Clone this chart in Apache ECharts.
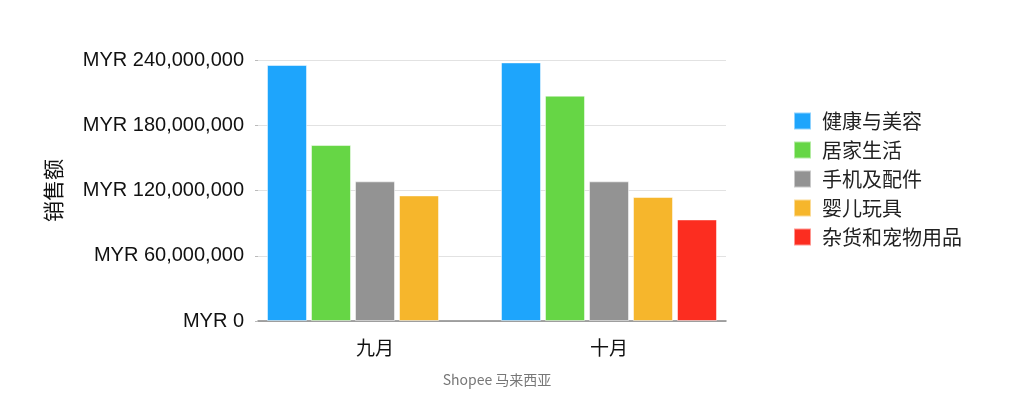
<!DOCTYPE html>
<html><head><meta charset="utf-8">
<script src="https://cdn.jsdelivr.net/npm/echarts@6/dist/echarts.min.js"></script>
<style>html,body{margin:0;padding:0;background:#fff}#c{width:1024px;height:420px}</style>
</head><body><div id="c"></div>
<script>
var categories = ['九月', '十月'];
var seriesNames = ['健康与美容', '居家生活', '手机及配件', '婴儿玩具', '杂货和宠物用品'];
var health = [235400000, 237800000];
var home = [161800000, 207200000];
var phones = [128400000, 128400000];
var baby = [115500000, 114000000];
var grocery = [null, 93400000];
var colors = ['#1EA5FC', '#66D645', '#939393', '#F6B62C', '#FC2D20'];
var yTicks = [0, 60000000, 120000000, 180000000, 240000000];

var dataList = [health, home, phones, baby, grocery];
var font = '"Noto Sans CJK SC", "Liberation Sans", sans-serif';
var chart = echarts.init(document.getElementById('c'));
function fmt(v){ return 'MYR ' + v.toString().replace(/\B(?=(\d{3})+(?!\d))/g, ','); }
chart.setOption({
  animation: false,
  color: colors,
  title: { text: 'Shopee 马来西亚', left: 492, top: 368, textAlign: 'center',
    textStyle: { fontSize: 14, fontWeight: 'normal', color: '#777', fontFamily: font } },
  legend: { orient: 'vertical', left: 788, top: 106, itemWidth: 17, itemHeight: 17, itemGap: 9,
    icon: 'rect', textStyle: { fontSize: 20, lineHeight: 20, color: '#222', fontFamily: font, padding: [0,0,0,6] },
    data: seriesNames },
  grid: { left: 258, top: 60, width: 468, height: 261 },
  xAxis: { type: 'category', data: categories,
    axisLine: { lineStyle: { color: '#888', width: 1.5 } }, axisTick: { show: false },
    axisLabel: { fontSize: 19, color: '#111', fontFamily: font, margin: 17 } },
  yAxis: { type: 'value', min: yTicks[0], max: yTicks[yTicks.length-1], interval: yTicks[1]-yTicks[0],
    name: '销售额', nameLocation: 'middle', nameRotate: 90, nameGap: 194,
    nameTextStyle: { fontSize: 21, color: '#111', fontFamily: font },
    axisLine: { show: false }, axisTick: { show: true, length: 3, lineStyle: { color: '#bbb' } },
    splitLine: { lineStyle: { color: '#e2e2e2', width: 1 } },
    axisLabel: { fontSize: 20, color: '#111', fontFamily: '"Liberation Sans", sans-serif', margin: 14, formatter: fmt } },
  series: seriesNames.map(function(n, i){
    return { name: n, type: 'bar', data: dataList[i], barWidth: 40, barGap: '10%', barCategoryGap: '7%',
      itemStyle: { color: colors[i], borderColor: 'rgba(255,255,255,0.5)', borderWidth: 1 } };
  })
});
</script></body></html>
